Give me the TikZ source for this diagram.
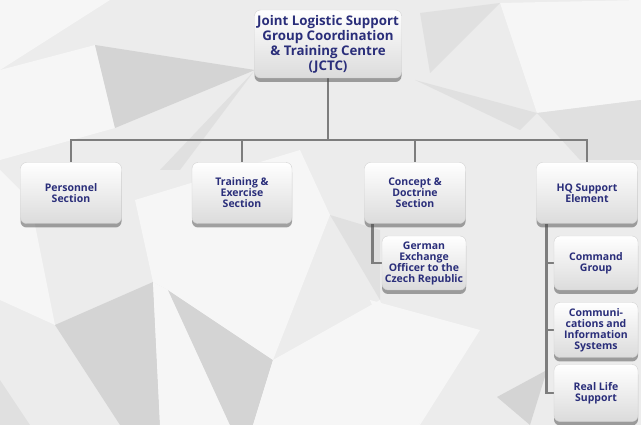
\documentclass[tikz,border=0pt]{standalone}
\usepackage{fontspec}
\setmainfont{Open Sans}
\usetikzlibrary{shadows,backgrounds}

\definecolor{jctcblue}{RGB}{42,46,122}
\definecolor{linegray}{RGB}{125,125,125}
\definecolor{bgbase}{RGB}{236,236,236}
\definecolor{bglight}{RGB}{246,246,246}
\definecolor{bgmid}{RGB}{224,224,224}
\definecolor{bgdark}{RGB}{212,212,212}

\tikzset{
  unit/.style={rounded corners=6pt, draw=gray!35, top color=white, bottom color=gray!28,
    drop shadow={shadow xshift=0pt,shadow yshift=-4pt,opacity=.5,fill=black!70},
    text=jctcblue, font=\bfseries\fontsize{10.5}{11}\selectfont, align=center,
    inner sep=0pt, minimum width=101pt, minimum height=61pt},
  subunit/.style={unit, minimum width=84pt, minimum height=54pt},
  conn/.style={draw=linegray, line width=2.5pt},
}

\begin{document}
\begin{tikzpicture}[x=1pt,y=-1pt]
\useasboundingbox (0,0) rectangle (641,425);

% background facets
\begin{scope}[on background layer]
\fill[bgbase] (0,0) rectangle (641,425);
\fill[bglight] (0,0) -- (110,0) -- (0,70) -- cycle;
\fill[bglight] (0,70) -- (95,45) -- (115,128) -- (0,160) -- cycle;
\fill[bgdark] (95,45) -- (255,70) -- (115,128) -- cycle;
\fill[bgmid] (255,70) -- (225,110) -- (180,170) -- (160,170) -- cycle;
\fill[bgmid] (420,13) -- (500,3) -- (430,73) -- cycle;
\fill[bglight] (500,3) -- (641,0) -- (641,100) -- (537,113) -- cycle;
\fill[bgmid] (537,113) -- (641,100) -- (641,160) -- (580,160) -- cycle;
\fill[bgmid] (415,80) -- (537,113) -- (520,130) -- cycle;
\fill[bglight] (0,170) -- (30,200) -- (55,325) -- (0,300) -- cycle;
\fill[bgdark] (55,325) -- (153,282) -- (160,425) -- (120,425) -- cycle;
\fill[bglight] (153,282) -- (168,290) -- (230,425) -- (160,425) -- cycle;
\fill[bgdark] (168,290) -- (273,360) -- (253,425) -- (230,425) -- cycle;
\fill[bglight] (153,282) -- (135,200) -- (300,150) -- (330,215) -- (273,360) -- (168,290) -- cycle;
\fill[bgmid] (330,215) -- (380,230) -- (380,300) -- cycle;
\fill[bgmid] (0,380) -- (30,425) -- (0,425) -- cycle;
\fill[bglight] (273,360) -- (380,300) -- (420,425) -- (253,425) -- cycle;
\fill[bgdark] (497,397) -- (547,370) -- (530,425) -- cycle;
\fill[bglight] (370,300) -- (480,330) -- (420,425) -- cycle;
\end{scope}

\node[unit, minimum width=147pt, minimum height=68pt,
  font=\bfseries\fontsize{13.3}{15}\selectfont] (jctc) at (328,44)
  {Joint Logistic Support\\Group Coordination\\\& Training Centre\\(JCTC)};

\node[unit] (pers) at (71,193) {Personnel\\Section};
\node[unit, minimum width=100pt] (train) at (242,193) {Training \&\\Exercise\\Section};
\node[unit] (concept) at (415,193) {Concept \&\\Doctrine\\Section};
\node[unit] (hq) at (587,193) {HQ Support\\Element};

\node[subunit] (german) at (424,263) {German\\Exchange\\Officer to the\\Czech Republic};
\node[subunit] (cmd) at (596,263) {Command\\Group};
\node[subunit, minimum height=55pt] (cis) at (596,330) {Communi-\\cations and\\Information\\Systems};
\node[subunit, minimum height=57pt] (rls) at (596,393) {Real Life\\Support};

\begin{scope}[on background layer]
\coordinate (bar) at (328,140);
\draw[conn] (jctc.south) -- (bar);
\foreach \n in {pers,train,concept,hq}
  \draw[conn] (bar) -| (\n.north);
\draw[conn] ([xshift=8pt]concept.south west) |- (german.west);
\foreach \n in {cmd,cis,rls}
  \draw[conn] ([xshift=10pt]hq.south west) |- (\n.west);
\end{scope}
\end{tikzpicture}
\end{document}
